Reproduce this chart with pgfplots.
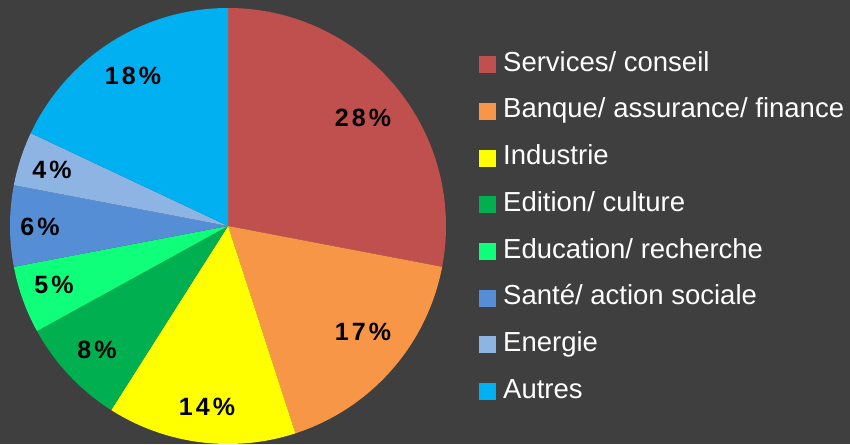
\documentclass[border=0pt]{standalone}
\usepackage{fontspec}
\setmainfont{Liberation Sans}
\newfontfamily\pctfont[LetterSpace=12]{Liberation Sans}
\usepackage{pgfplots}
\usepackage{pgfplotstable}
\pgfplotsset{compat=1.18}

\definecolor{bgcol}{HTML}{3F3F3F}
\definecolor{c1}{HTML}{C0504D}
\definecolor{c2}{HTML}{F79646}
\definecolor{c3}{HTML}{FFFF00}
\definecolor{c4}{HTML}{00B050}
\definecolor{c5}{HTML}{10FF7A}
\definecolor{c6}{HTML}{558ED5}
\definecolor{c7}{HTML}{8EB4E3}
\definecolor{c8}{HTML}{00B0F0}

\newcommand\pctstyle{\pctfont\bfseries\fontsize{25bp}{25bp}\selectfont}

% share of each sector, clockwise from 12 o'clock; lx,ly = label position
\pgfplotstableread[col sep=comma]{
share,colour,lx,ly,label
28,c1,363,326,Services/ conseil
17,c2,363,112,Banque/ assurance/ finance
14,c3,207,37,Industrie
8,c4,97,94,Edition/ culture
5,c5,54,159,Education/ recherche
6,c6,40,217,Santé/ action sociale
4,c7,52,274,Energie
18,c8,133,368,Autres
}\sectors

\begin{document}
\begin{tikzpicture}
\begin{axis}[
  width=850bp, height=444bp, scale only axis,
  xmin=0, xmax=850, ymin=0, ymax=444,
  hide axis, clip=false,
  legend image code/.code={\fill[#1,draw=none] (0bp,-8.5bp) rectangle (17bp,8.5bp);},
  legend style={at={(axis cs:479,392)}, anchor=north west,
    draw=none, fill=none, text=white, inner sep=0pt,
    font=\fontsize{27.5bp}{27.5bp}\selectfont,
    nodes={inner sep=0pt, text height=19bp, text depth=6bp},
    cells={anchor=west}, row sep=21.7bp, column sep=7bp},
]
\fill[bgcol] (rel axis cs:0,0) rectangle (rel axis cs:1,1);
\def\curang{90}
\pgfplotsforeachungrouped \i in {0,...,7}{%
  \pgfplotstablegetelem{\i}{share}\of\sectors \let\val\pgfplotsretval
  \pgfplotstablegetelem{\i}{colour}\of\sectors \let\col\pgfplotsretval
  \pgfplotstablegetelem{\i}{lx}\of\sectors \let\lx\pgfplotsretval
  \pgfplotstablegetelem{\i}{ly}\of\sectors \let\ly\pgfplotsretval
  \pgfplotstablegetelem{\i}{label}\of\sectors \let\lab\pgfplotsretval
  \pgfmathsetmacro\nxtang{\curang-3.6*\val}
  \edef\cmd{%
    \noexpand\fill[\col] (axis cs:228,218) -- ++(\curang:218bp)
      arc[start angle=\curang, end angle=\nxtang, radius=218bp] -- cycle;
    \noexpand\node[font=\noexpand\pctstyle, text=black]
      at (axis cs:\lx,\ly) {\val\noexpand\%};
    \noexpand\addlegendimage{fill=\col}
    \noexpand\addlegendentry{\lab}}%
  \cmd
  \global\let\curang\nxtang
}
\end{axis}
\pgfresetboundingbox
\path (current axis.south west) rectangle (current axis.north east);
\end{tikzpicture}
\end{document}
